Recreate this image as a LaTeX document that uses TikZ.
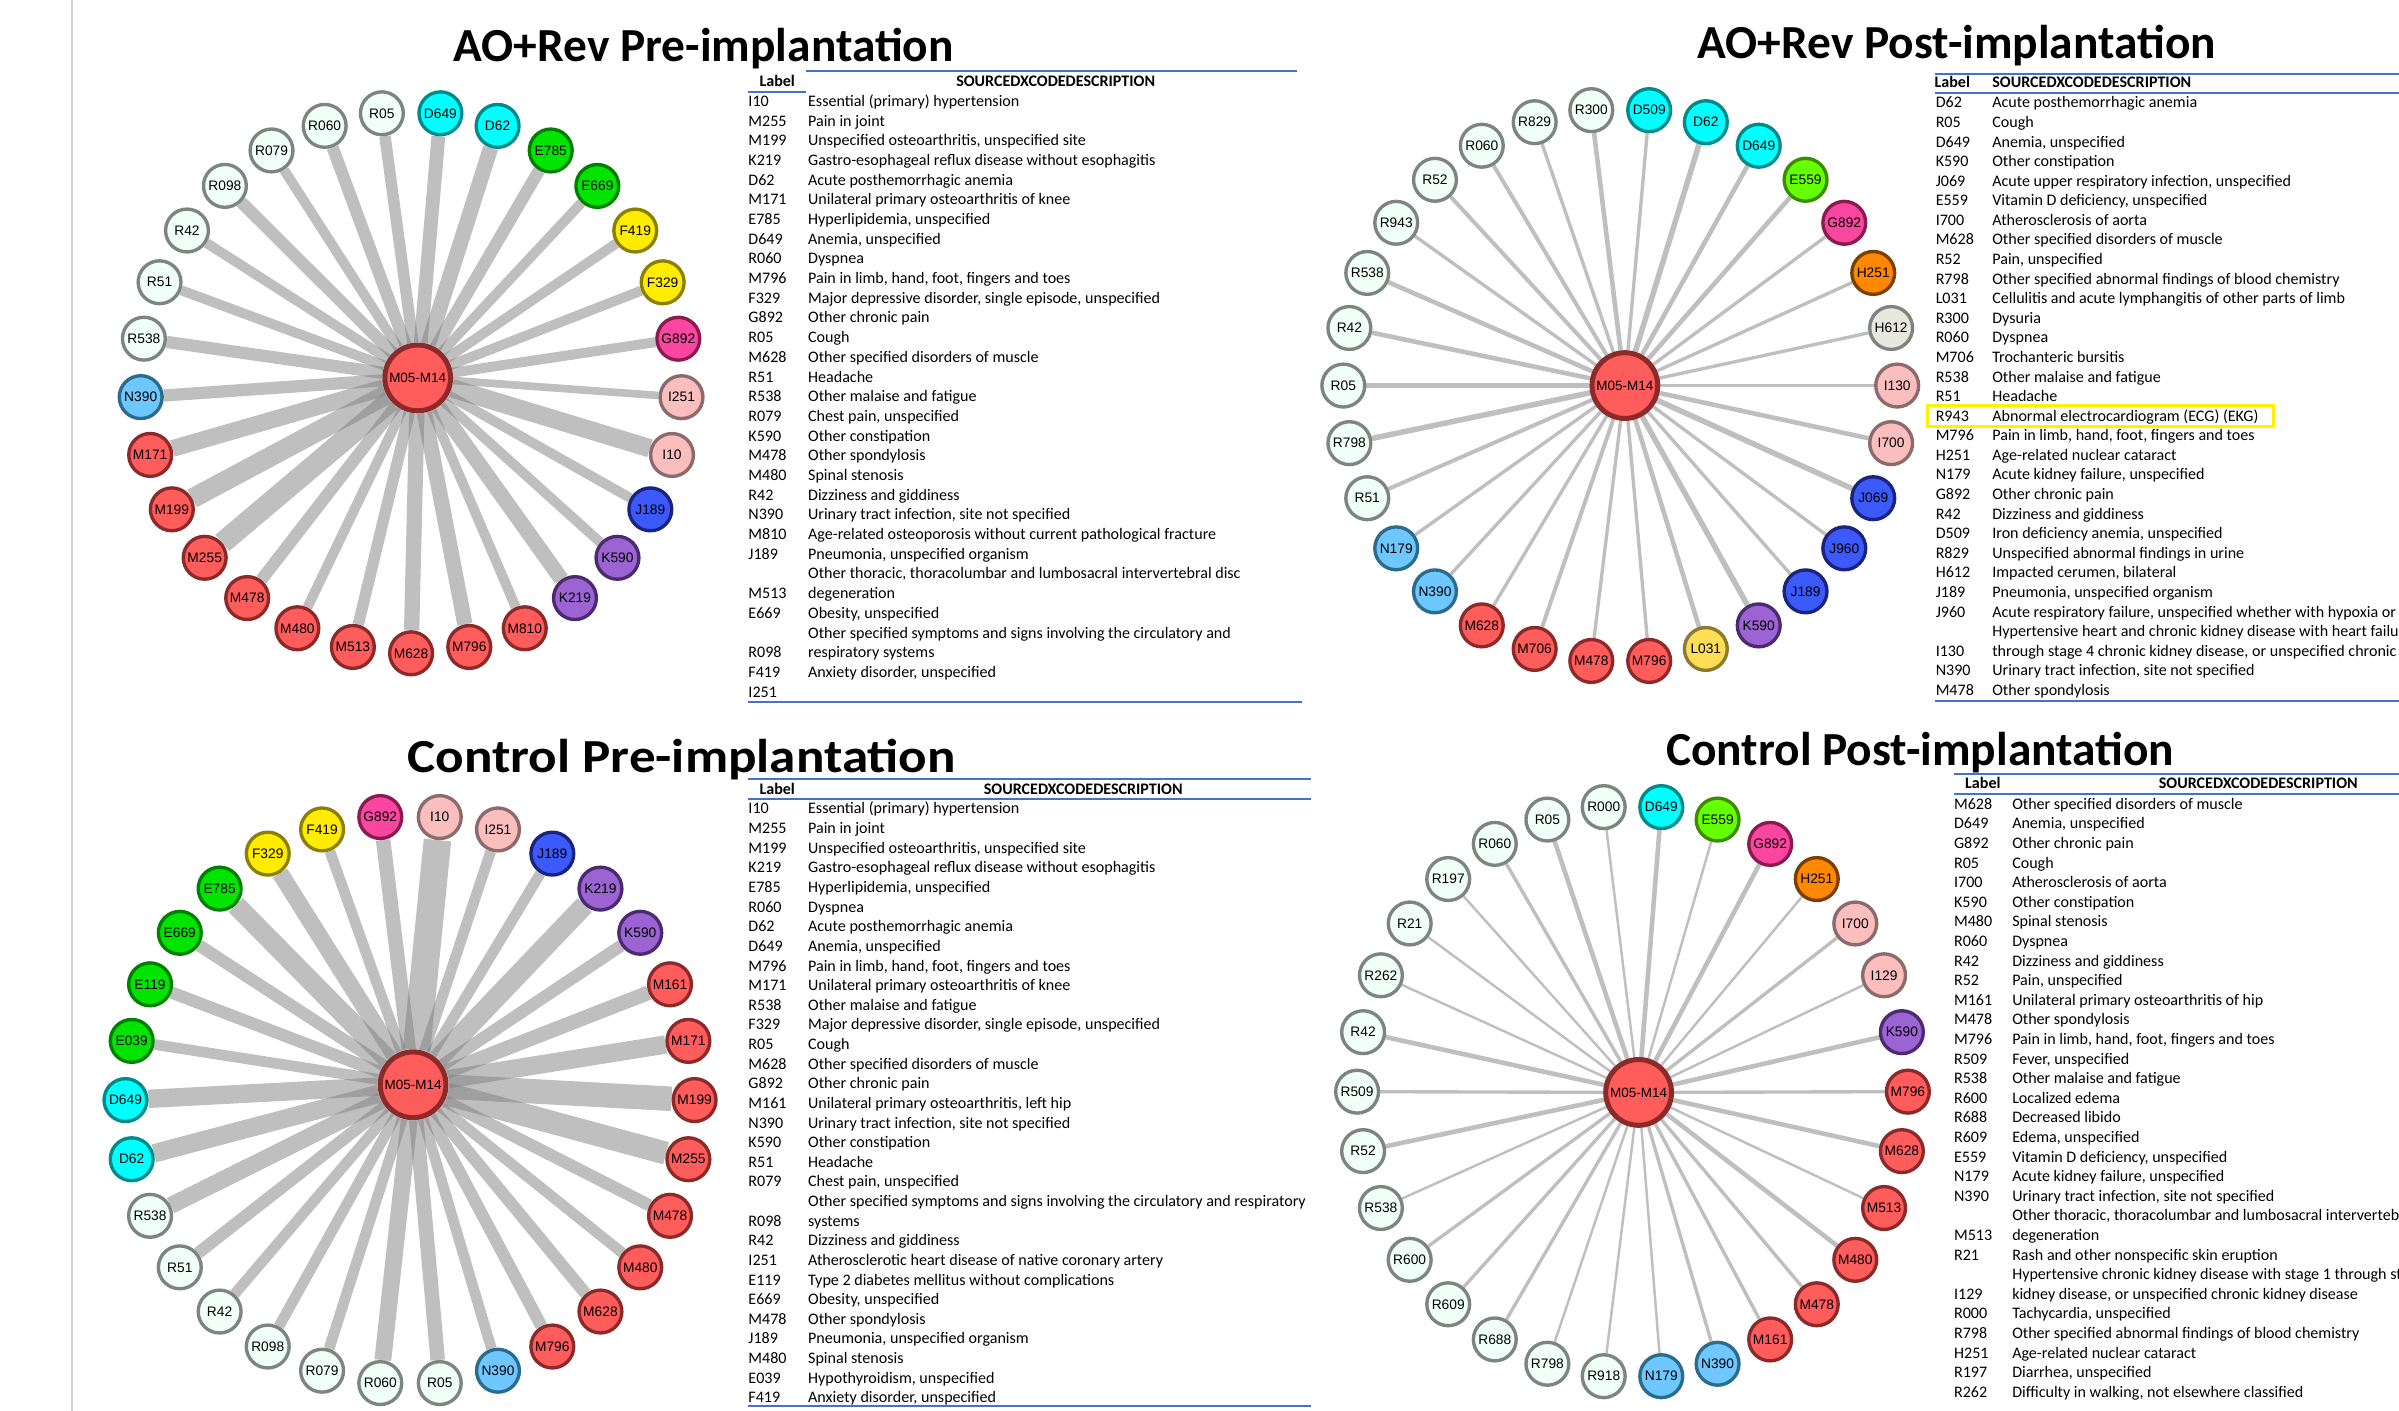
\documentclass[tikz,border=0pt]{standalone}
\usepackage{fontspec}
\setmainfont{Carlito}
\newfontfamily\nodefont{Liberation Sans}
\usetikzlibrary{backgrounds}

\definecolor{hubred}{RGB}{255,92,92}
\definecolor{hubedge}{RGB}{140,42,42}
\definecolor{mint}{RGB}{240,255,248}
\definecolor{mintedge}{RGB}{125,132,130}
\definecolor{cyanfill}{RGB}{0,255,255}
\definecolor{cyanedge}{RGB}{0,139,139}
\definecolor{greenfill}{RGB}{0,228,0}
\definecolor{greenedge}{RGB}{0,128,0}
\definecolor{limefill}{RGB}{102,255,0}
\definecolor{limeedge}{RGB}{60,140,0}
\definecolor{yellowfill}{RGB}{255,236,0}
\definecolor{yellowedge}{RGB}{139,128,0}
\definecolor{pinkfill}{RGB}{250,70,160}
\definecolor{pinkedge}{RGB}{139,26,80}
\definecolor{rosefill}{RGB}{250,190,190}
\definecolor{roseedge}{RGB}{139,107,107}
\definecolor{bluefill}{RGB}{60,90,250}
\definecolor{blueedge}{RGB}{26,35,126}
\definecolor{purplefill}{RGB}{155,100,210}
\definecolor{purpleedge}{RGB}{75,42,112}
\definecolor{skyfill}{RGB}{110,200,255}
\definecolor{skyedge}{RGB}{43,107,139}
\definecolor{orangefill}{RGB}{255,136,0}
\definecolor{orangeedge}{RGB}{122,64,0}
\definecolor{beigefill}{RGB}{232,232,220}
\definecolor{goldfill}{RGB}{255,221,85}
\definecolor{goldedge}{RGB}{139,122,48}
\definecolor{tableblue}{RGB}{68,114,196}
\definecolor{linkgray}{RGB}{128,128,128}

\begin{document}
\begin{tikzpicture}[x=1pt,y=-1pt,
  code/.style={circle,draw,line width=2.2pt,minimum size=28pt,inner sep=0pt,font=\nodefont\fontsize{9}{10}\selectfont},
  hub/.style={code,minimum size=43pt,line width=3.3pt,fill=hubred,draw=hubedge,font=\nodefont\fontsize{8.8}{10}\selectfont},
  mintnode/.style={code,fill=mint,draw=mintedge},
  cyannode/.style={code,fill=cyanfill,draw=cyanedge},
  greennode/.style={code,fill=greenfill,draw=greenedge},
  limenode/.style={code,fill=limefill,draw=limeedge},
  yellownode/.style={code,fill=yellowfill,draw=yellowedge},
  pinknode/.style={code,fill=pinkfill,draw=pinkedge},
  rosenode/.style={code,fill=rosefill,draw=roseedge},
  bluenode/.style={code,fill=bluefill,draw=blueedge},
  purplenode/.style={code,fill=purplefill,draw=purpleedge},
  rednode/.style={code,fill=hubred,draw=hubedge},
  skynode/.style={code,fill=skyfill,draw=skyedge},
  orangenode/.style={code,fill=orangefill,draw=orangeedge},
  beigenode/.style={code,fill=beigefill,draw=mintedge},
  goldnode/.style={code,fill=goldfill,draw=goldedge},
  link/.style={draw=linkgray,draw opacity=0.5},
  title/.style={anchor=base,inner sep=0pt,font=\fontsize{31}{36}\selectfont\bfseries},
  cell/.style={anchor=base west,inner sep=0pt,font=\fontsize{10.5}{12}\selectfont},
  headcell/.style={anchor=base,inner sep=0pt,font=\fontsize{10.5}{12}\selectfont\bfseries},
  rule/.style={draw=tableblue,line width=1.2pt}]

\useasboundingbox (0,0) rectangle (1568,922);
\begin{pgfonlayer}{background}
  \fill[white] (0,0) rectangle (1568,922);
\end{pgfonlayer}
\draw[line width=1.5pt,black!18] (47,0) -- (47,922);

% titles
\node[title] (apre-title) at (460,40) {AO+Rev Pre-implantation};
\node[title] (apost-title) at (1279,38) {AO+Rev Post-implantation};
\node[title,xscale=1.12,transform shape] (cpre-title) at (445.5,505) {Control Pre-implantation};
\node[title] (cpost-title) at (1255,500) {Control Post-implantation};

% AO+Rev pre
\node[hub] (apre-hub) at (273,247) {M05-M14};
\foreach \code/\look/\w [count=\i from 0] in {D649/cyannode/9,D62/cyannode/10,E785/greennode/8,E669/greennode/6.5,
  F419/yellownode/6.5,F329/yellownode/6.5,G892/pinknode/6.5,I251/rosenode/5,I10/rosenode/12,J189/bluenode/6.5,
  K590/purplenode/6.5,K219/purplenode/10,M810/rednode/6.5,M796/rednode/10,M628/rednode/10,M513/rednode/7.5,
  M480/rednode/6.5,M478/rednode/8,M255/rednode/14,M199/rednode/13,M171/rednode/11,N390/skynode/8,
  R538/mintnode/8,R51/mintnode/6.5,R42/mintnode/6.5,R098/mintnode/8,R079/mintnode/6.5,R060/mintnode/8,R05/mintnode/7.5}
{
  \node[\look] (apre-\code) at ({268.7+177*cos(83.79-12.414*\i)},{250-177*sin(83.79-12.414*\i)}) {\code};
  \begin{pgfonlayer}{background}
    \draw[link,line width=\w pt] (apre-hub) -- (apre-\code);
  \end{pgfonlayer}
}

% AO+Rev post
\node[hub] (apost-hub) at (1062,252) {M05-M14};
\foreach \code/\look/\w [count=\i from 0] in {D509/cyannode/2.2,D62/cyannode/3.6,D649/cyannode/3,E559/limenode/3,
  G892/pinknode/2.2,H251/orangenode/2.2,H612/beigenode/2.2,I130/rosenode/2.2,I700/rosenode/3,J069/bluenode/3.6,
  J960/bluenode/2.2,J189/bluenode/2.2,K590/purplenode/3.6,L031/goldnode/3,M796/rednode/2.2,M478/rednode/2.2,
  M706/rednode/2.6,M628/rednode/2.2,N390/skynode/2.2,N179/skynode/2.2,R51/mintnode/2.6,R798/mintnode/3.6,
  R05/mintnode/3.6,R42/mintnode/3,R538/mintnode/3,R943/mintnode/2.2,R52/mintnode/2.6,R060/mintnode/2.6,
  R829/mintnode/2.2,R300/mintnode/3}
{
  \node[\look] (apost-\code) at ({1059+181*cos(84-12*\i)},{252-181*sin(84-12*\i)}) {\code};
  \begin{pgfonlayer}{background}
    \draw[link,line width=\w pt] (apost-hub) -- (apost-\code);
  \end{pgfonlayer}
}

% Control pre
\node[hub] (cpre-hub) at (270,709) {M05-M14};
\foreach \code/\look/\w [count=\i from 0] in {I10/rosenode/18,I251/rosenode/7,J189/bluenode/7,K219/purplenode/13,
  K590/purplenode/8,M161/rednode/9.5,M171/rednode/12,M199/rednode/16,M255/rednode/15,M478/rednode/8,
  M480/rednode/7,M628/rednode/8,M796/rednode/8,N390/skynode/7,R05/mintnode/9.5,R060/mintnode/11,
  R079/mintnode/7,R098/mintnode/7,R42/mintnode/7,R51/mintnode/8,R538/mintnode/11,D62/cyannode/12,
  D649/cyannode/12,E039/greennode/7,E119/greennode/8,E669/greennode/8,E785/greennode/13,F329/yellownode/11,
  F419/yellownode/7,G892/pinknode/9.5}
{
  \node[\look] (cpre-\code) at ({268+186*cos(84-12*\i)},{719-186*sin(84-12*\i)}) {\code};
  \begin{pgfonlayer}{background}
    \draw[link,line width=\w pt] (cpre-hub) -- (cpre-\code);
  \end{pgfonlayer}
}

% Control post
\node[hub] (cpost-hub) at (1071,714) {M05-M14};
\foreach \code/\look/\w [count=\i from 0] in {D649/cyannode/3,E559/limenode/1.6,G892/pinknode/3,H251/orangenode/1.6,
  I700/rosenode/2.2,I129/rosenode/1.6,K590/purplenode/3,M796/rednode/2.2,M628/rednode/3,M513/rednode/1.6,
  M480/rednode/3,M478/rednode/2.2,M161/rednode/2.2,N390/skynode/2.2,N179/skynode/1.6,R918/mintnode/1.6,
  R798/mintnode/1.6,R688/mintnode/2.2,R609/mintnode/2.2,R600/mintnode/2.2,R538/mintnode/1.6,R52/mintnode/3,
  R509/mintnode/2.2,R42/mintnode/3,R262/mintnode/1.6,R21/mintnode/1.6,R197/mintnode/1.6,R060/mintnode/2.2,
  R05/mintnode/3,R000/mintnode/1.6}
{
  \node[\look] (cpost-\code) at ({1067+180*cos(84-12*\i)},{713.5-187*sin(84-12*\i)}) {\code};
  \begin{pgfonlayer}{background}
    \draw[link,line width=\w pt] (cpost-hub) -- (cpost-\code);
  \end{pgfonlayer}
}

% table AO+Rev pre
\node[headcell] (apre-hlabel) at (508,56.5) {Label};
\node[headcell] (apre-hdesc) at (690,56.5) {SOURCEDXCODEDESCRIPTION};
\draw[rule] (527,46.5) -- (848,46.5);
\draw[rule] (489,60) -- (527,60);
\draw[rule] (489,459) -- (851,459);
\foreach \code/\desc [count=\r from 0] in {I10/{Essential (primary) hypertension},M255/{Pain in joint},
  M199/{Unspecified osteoarthritis, unspecified site},K219/{Gastro-esophageal reflux disease without esophagitis},
  D62/{Acute posthemorrhagic anemia},M171/{Unilateral primary osteoarthritis of knee},E785/{Hyperlipidemia, unspecified},
  D649/{Anemia, unspecified},R060/{Dyspnea},M796/{Pain in limb, hand, foot, fingers and toes},
  F329/{Major depressive disorder, single episode, unspecified},G892/{Other chronic pain},R05/{Cough},
  M628/{Other specified disorders of muscle},R51/{Headache},R538/{Other malaise and fatigue},R079/{Chest pain, unspecified},
  K590/{Other constipation},M478/{Other spondylosis},M480/{Spinal stenosis},R42/{Dizziness and giddiness},
  N390/{Urinary tract infection, site not specified},M810/{Age-related osteoporosis without current pathological fracture},
  J189/{Pneumonia, unspecified organism},{}/{Other thoracic, thoracolumbar and lumbosacral intervertebral disc},
  M513/{degeneration},E669/{Obesity, unspecified},{}/{Other specified symptoms and signs involving the circulatory and},
  R098/{respiratory systems},F419/{Anxiety disorder, unspecified},I251/{}}
{
  \node[cell] (apre-c\r) at (489,{69.5+12.87*\r}) {\code};
  \node[cell] (apre-d\r) at (528,{69.5+12.87*\r}) {\desc};
}

% table AO+Rev post
\node[headcell] (apost-hlabel) at (1276,57.5) {Label};
\node[headcell,anchor=base west] (apost-hdesc) at (1302,57.5) {SOURCEDXCODEDESCRIPTION};
\draw[rule] (1265,48.5) -- (1568,48.5);
\draw[rule] (1265,61) -- (1568,61);
\draw[rule] (1265,458) -- (1568,458);
\foreach \code/\desc [count=\r from 0] in {D62/{Acute posthemorrhagic anemia},R05/{Cough},D649/{Anemia, unspecified},
  K590/{Other constipation},J069/{Acute upper respiratory infection, unspecified},E559/{Vitamin D deficiency, unspecified},
  I700/{Atherosclerosis of aorta},M628/{Other specified disorders of muscle},R52/{Pain, unspecified},
  R798/{Other specified abnormal findings of blood chemistry},L031/{Cellulitis and acute lymphangitis of other parts of limb},
  R300/{Dysuria},R060/{Dyspnea},M706/{Trochanteric bursitis},R538/{Other malaise and fatigue},R51/{Headache},
  R943/{Abnormal electrocardiogram (ECG) (EKG)},M796/{Pain in limb, hand, foot, fingers and toes},
  H251/{Age-related nuclear cataract},N179/{Acute kidney failure, unspecified},G892/{Other chronic pain},
  R42/{Dizziness and giddiness},D509/{Iron deficiency anemia, unspecified},R829/{Unspecified abnormal findings in urine},
  H612/{Impacted cerumen, bilateral},J189/{Pneumonia, unspecified organism},
  J960/{Acute respiratory failure, unspecified whether with hypoxia or},
  {}/{Hypertensive heart and chronic kidney disease with heart failu},
  I130/{through stage 4 chronic kidney disease, or unspecified chronic},
  N390/{Urinary tract infection, site not specified},M478/{Other spondylosis}}
{
  \node[cell] (apost-c\r) at (1265,{70.5+12.8*\r}) {\code};
  \node[cell] (apost-d\r) at (1302,{70.5+12.8*\r}) {\desc};
}
\draw[yellow,line width=2pt] (1260,265) rectangle (1486,279);

% table Control pre
\node[headcell] (cpre-hlabel) at (508,519) {Label};
\node[headcell] (cpre-hdesc) at (708,519) {SOURCEDXCODEDESCRIPTION};
\draw[rule] (489,509) -- (857,509);
\draw[rule] (489,522) -- (857,522);
\draw[rule] (489,919) -- (857,919);
\foreach \code/\desc [count=\r from 0] in {I10/{Essential (primary) hypertension},M255/{Pain in joint},
  M199/{Unspecified osteoarthritis, unspecified site},K219/{Gastro-esophageal reflux disease without esophagitis},
  E785/{Hyperlipidemia, unspecified},R060/{Dyspnea},D62/{Acute posthemorrhagic anemia},D649/{Anemia, unspecified},
  M796/{Pain in limb, hand, foot, fingers and toes},M171/{Unilateral primary osteoarthritis of knee},
  R538/{Other malaise and fatigue},F329/{Major depressive disorder, single episode, unspecified},R05/{Cough},
  M628/{Other specified disorders of muscle},G892/{Other chronic pain},M161/{Unilateral primary osteoarthritis, left hip},
  N390/{Urinary tract infection, site not specified},K590/{Other constipation},R51/{Headache},R079/{Chest pain, unspecified},
  {}/{Other specified symptoms and signs involving the circulatory and respiratory},R098/{systems},
  R42/{Dizziness and giddiness},I251/{Atherosclerotic heart disease of native coronary artery},
  E119/{Type 2 diabetes mellitus without complications},E669/{Obesity, unspecified},M478/{Other spondylosis},
  J189/{Pneumonia, unspecified organism},M480/{Spinal stenosis},E039/{Hypothyroidism, unspecified},
  F419/{Anxiety disorder, unspecified}}
{
  \node[cell] (cpre-c\r) at (489,{532+12.83*\r}) {\code};
  \node[cell] (cpre-d\r) at (528,{532+12.83*\r}) {\desc};
}

% table Control post
\node[headcell] (cpost-hlabel) at (1296,515.5) {Label};
\node[headcell] (cpost-hdesc) at (1476,515.5) {SOURCEDXCODEDESCRIPTION};
\draw[rule] (1277,506) -- (1568,506);
\draw[rule] (1277,519) -- (1568,519);
\foreach \code/\desc [count=\r from 0] in {M628/{Other specified disorders of muscle},D649/{Anemia, unspecified},
  G892/{Other chronic pain},R05/{Cough},I700/{Atherosclerosis of aorta},K590/{Other constipation},M480/{Spinal stenosis},
  R060/{Dyspnea},R42/{Dizziness and giddiness},R52/{Pain, unspecified},M161/{Unilateral primary osteoarthritis of hip},
  M478/{Other spondylosis},M796/{Pain in limb, hand, foot, fingers and toes},R509/{Fever, unspecified},
  R538/{Other malaise and fatigue},R600/{Localized edema},R688/{Decreased libido},R609/{Edema, unspecified},
  E559/{Vitamin D deficiency, unspecified},N179/{Acute kidney failure, unspecified},
  N390/{Urinary tract infection, site not specified},{}/{Other thoracic, thoracolumbar and lumbosacral interverteb},
  M513/{degeneration},R21/{Rash and other nonspecific skin eruption},
  {}/{Hypertensive chronic kidney disease with stage 1 through st},
  I129/{kidney disease, or unspecified chronic kidney disease},R000/{Tachycardia, unspecified},
  R798/{Other specified abnormal findings of blood chemistry},H251/{Age-related nuclear cataract},
  R197/{Diarrhea, unspecified},R262/{Difficulty in walking, not elsewhere classified}}
{
  \node[cell] (cpost-c\r) at (1277,{529+12.81*\r}) {\code};
  \node[cell] (cpost-d\r) at (1315,{529+12.81*\r}) {\desc};
}
\end{tikzpicture}
\end{document}
